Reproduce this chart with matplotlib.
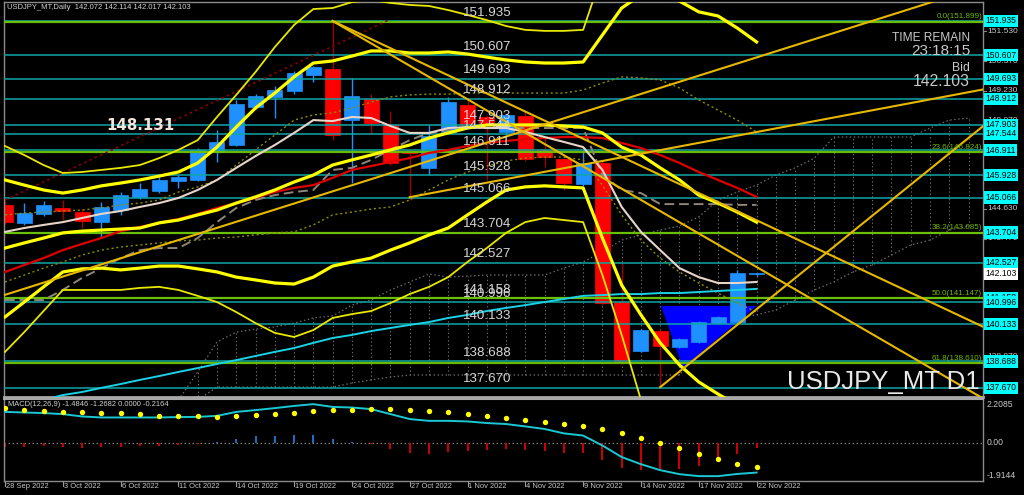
import matplotlib
matplotlib.use("Agg")
import matplotlib.pyplot as plt
from matplotlib.patches import Rectangle, Polygon
import numpy as np

# ---------------- data ----------------
date_labels = ["28 Sep 2022", "3 Oct 2022", "6 Oct 2022", "11 Oct 2022", "14 Oct 2022",
               "19 Oct 2022", "24 Oct 2022", "27 Oct 2022", "1 Nov 2022", "4 Nov 2022",
               "9 Nov 2022", "14 Nov 2022", "17 Nov 2022", "22 Nov 2022"]
date_label_bars = [0, 3, 6, 9, 12, 15, 18, 21, 24, 27, 30, 33, 36, 39]

opens = [144.78, 144.08, 144.43, 144.66, 144.50, 144.11, 144.58, 145.09, 145.32, 145.71,
         145.75, 146.84, 147.11, 148.59, 148.98, 149.21, 149.83, 150.07, 148.08, 148.90,
         147.89, 146.85, 146.22, 147.62, 148.67, 148.20, 147.62, 148.24, 146.92, 146.56,
         145.59, 146.41, 141.00, 139.10, 139.87, 139.25, 139.45, 140.19, 140.22, 142.072]
highs = [144.95, 144.85, 144.95, 144.97, 144.62, 144.89, 145.30, 145.63, 145.85, 145.95,
         146.99, 147.69, 148.86, 149.09, 149.41, 150.00, 150.20, 151.935, 149.72, 149.09,
         148.43, 146.92, 147.89, 148.98, 148.90, 148.28, 148.30, 148.40, 147.42, 146.60,
         146.92, 146.50, 142.52, 139.95, 139.95, 139.60, 140.25, 140.45, 142.25, 142.114]
lows = [144.05, 144.00, 144.35, 144.19, 143.88, 143.53, 144.40, 145.00, 145.24, 145.44,
        145.70, 146.45, 147.07, 148.50, 148.16, 149.09, 149.56, 147.30, 145.63, 147.54,
        146.33, 144.97, 145.94, 147.55, 147.80, 145.75, 147.50, 146.50, 146.25, 145.36,
        145.50, 140.90, 138.60, 139.05, 137.69, 139.20, 139.40, 140.15, 140.18, 142.017]
closes = [144.11, 144.46, 144.78, 144.54, 144.15, 144.70, 145.16, 145.40, 145.75, 145.86,
          146.92, 147.23, 148.70, 149.02, 149.25, 149.91, 150.15, 147.50, 149.02, 147.97,
          146.41, 146.80, 147.46, 148.78, 147.89, 147.97, 148.28, 146.56, 146.64, 145.63,
          146.41, 140.96, 138.67, 139.91, 139.29, 139.56, 140.22, 140.42, 142.13, 142.103]

# Bollinger-type bands (thick = 2 sigma, thin = outer)
bb_mid = [143.10, 143.30, 143.49, 143.69, 143.76, 143.80, 143.84, 143.88, 144.08, 144.19,
          144.39, 144.58, 144.85, 145.09, 145.36, 145.67, 145.94, 146.33, 146.53, 146.72,
          146.92, 147.11, 147.38, 147.58, 147.77, 147.89, 147.89, 147.89, 147.89, 147.85,
          147.81, 147.58, 147.03, 146.72, 146.22, 145.75, 145.16, 144.85, 144.50, 144.11]
bb_up2 = [145.75, 145.55, 145.36, 145.24, 145.36, 145.52, 145.63, 145.75, 145.90, 146.06,
          146.41, 147.03, 147.81, 148.55, 149.13, 149.76, 150.30, 150.38, 150.57, 150.77,
          150.77, 150.69, 150.69, 150.73, 150.65, 150.53, 150.42, 150.34, 150.30, 150.30,
          150.34, 151.39, 152.44, 152.95, 152.95, 152.71, 152.29, 152.13, 151.66, 151.12]
bb_lo2 = [140.42, 141.00, 141.59, 142.17, 142.29, 142.32, 142.25, 142.32, 142.40, 142.40,
          142.29, 142.17, 141.97, 141.86, 141.74, 141.70, 141.97, 142.40, 142.56, 142.71,
          143.02, 143.30, 143.61, 143.88, 144.39, 144.89, 145.36, 145.48, 145.52, 145.48,
          145.44, 143.49, 141.66, 140.50, 139.41, 138.55, 137.89, 137.42, 136.99, 136.72]
bb_up3 = [147.07, 146.72, 146.33, 146.02, 146.06, 146.14, 146.22, 146.33, 146.60, 146.92,
          147.30, 148.20, 149.06, 149.95, 150.92, 151.78, 152.40, 152.44, 152.67, 152.75,
          152.64, 152.56, 152.52, 152.36, 152.17, 151.97, 151.74, 151.59, 151.55, 151.55,
          151.59, 153.80, 154.50, 154.50, 154.50, 154.50, 154.50, 154.50, 154.50, 154.50]
bb_lo3 = [139.06, 139.83, 140.65, 141.47, 141.47, 141.47, 141.47, 141.55, 141.59, 141.47,
          141.24, 141.00, 140.61, 140.18, 139.80, 139.64, 139.91, 140.38, 140.53, 140.65,
          140.96, 141.31, 141.59, 141.97, 142.56, 143.10, 143.69, 144.11, 144.27, 144.19,
          144.11, 142.05, 139.72, 137.19, 136.00, 135.60, 135.30, 135.00, 134.80, 134.60]

ma_red = [142.17, 142.44, 142.71, 143.02, 143.26, 143.49, 143.76, 143.92, 144.08, 144.23,
          144.43, 144.66, 144.85, 145.05, 145.28, 145.44, 145.55, 145.83, 146.14, 146.29,
          146.45, 146.60, 146.80, 146.92, 147.07, 147.19, 147.27, 147.34, 147.38, 147.42,
          147.42, 147.38, 147.19, 146.99, 146.72, 146.41, 146.06, 145.75, 145.44, 145.09]
ma_beige = [143.73, 143.88, 144.00, 144.11, 144.27, 144.43, 144.54, 144.70, 144.85, 145.05,
            145.36, 145.75, 146.22, 146.68, 147.11, 147.58, 148.08, 148.04, 148.20, 148.16,
            147.85, 147.58, 147.58, 147.77, 147.81, 147.77, 147.77, 147.62, 147.42, 147.23,
            147.03, 146.14, 144.70, 143.73, 143.02, 142.32, 141.97, 141.74, 141.74, 141.78]
ma_cyan = [136.80, 137.00, 137.19, 137.38, 137.50, 137.66, 137.81, 137.97, 138.12, 138.28,
           138.43, 138.59, 138.74, 138.90, 139.06, 139.21, 139.41, 139.60, 139.72, 139.87,
           139.99, 140.11, 140.22, 140.38, 140.50, 140.65, 140.77, 140.88, 141.00, 141.12,
           141.24, 141.27, 141.31, 141.31, 141.35, 141.35, 141.39, 141.43, 141.47, 141.51]
env_up = [144.39, 144.46, 144.50, 144.54, 144.58, 144.66, 144.78, 144.85, 144.97, 145.28,
          145.48, 145.75, 146.33, 146.92, 147.50, 148.08, 148.28, 148.36, 148.55, 148.78,
          148.98, 149.06, 149.09, 149.09, 149.13, 149.13, 149.13, 149.13, 149.13, 149.13,
          149.25, 149.52, 149.76, 149.72, 149.64, 149.33, 148.86, 148.47, 148.08, 147.62]
env_lo = [141.78, 142.05, 142.32, 142.56, 142.83, 143.02, 143.14, 143.22, 143.30, 143.38,
          143.41, 143.49, 143.53, 143.61, 143.69, 143.73, 144.00, 144.39, 144.50, 144.62,
          144.70, 144.97, 145.36, 145.75, 146.06, 146.29, 146.49, 146.60, 146.64, 146.64,
          146.53, 145.55, 144.39, 143.41, 142.71, 142.17, 141.74, 141.35, 140.96, 140.61]
kijun = [141.08, 141.08, 141.08, 141.47, 141.94, 142.32, 142.71, 143.02, 143.10, 143.10,
         143.49, 144.11, 144.66, 144.97, 145.16, 145.28, 145.36, 146.14, 146.22, 146.53,
         146.92, 147.30, 147.58, 147.69, 147.77, 147.77, 147.77, 147.77, 147.77, 147.77,
         147.77, 145.94, 145.36, 145.24, 144.81, 144.81, 144.81, 144.81, 144.78, 144.78]

# Ichimoku cloud spans for bars 9 .. 50
cloud_bars = list(range(9, 51))
span_a = [137.19, 138.28, 139.45, 139.83, 139.95, 140.03, 140.18, 140.38, 140.46, 140.88,
          141.08, 141.47, 141.78, 142.09, 141.97, 142.01, 142.05, 142.05, 142.05, 142.05,
          142.32, 142.56, 142.95, 143.41, 143.61, 143.80, 143.96, 144.31, 144.97, 145.28,
          145.55, 145.94, 146.22, 146.60, 147.42, 147.42, 147.42, 147.42, 147.42, 147.77,
          148.08, 148.16]
span_b = [137.19, 137.19, 137.69, 137.69, 137.69, 137.69, 137.69, 137.69, 137.69, 137.85,
          137.97, 138.08, 138.16, 138.16, 138.16, 138.16, 138.16, 138.16, 138.16, 138.16,
          138.16, 138.16, 138.16, 138.16, 138.16, 138.16, 138.16, 139.13, 139.91, 140.42,
          140.50, 140.69, 141.08, 141.47, 141.78, 142.17, 142.44, 142.83, 143.22, 143.41,
          143.80, 143.96]

# horizontal levels and Fibonacci retracement
level_values = [151.935, 150.607, 149.693, 148.912, 147.903, 147.544, 146.911, 145.928,
                145.066, 143.704, 142.527, 141.158, 140.996, 140.133, 138.688, 137.670]
fib_names = ["0.0", "23.6", "38.2", "50.0", "61.8"]
fib_values = [151.899, 146.824, 143.685, 141.147, 138.610]
axis_ticks = [151.530, 150.370, 149.230, 148.070, 146.910, 145.770, 144.630, 143.470,
              142.310, 141.170, 140.030, 138.870, 137.730]

# trend lines: (bar0, price0, bar1, price1)
trend_lines = [(17, 151.935, 50.75, 140.04),
               (17, 151.935, 50.75, 137.25),
               (0, 141.28, 50.75, 153.30),
               (34, 137.69, 50.75, 147.84),
               (21, 145.08, 50.75, 149.27)]
red_dotted_line = (0, 144.97, 19.9, 151.97)
triangle_bars = [34.04, 39.02, 35.18]
triangle_prices = [140.85, 140.85, 138.43]

bid = 142.103
title_text = "USDJPY_MT,Daily  142.072 142.114 142.017 142.103"

# MACD
macd_main = [1.56, 1.53, 1.50, 1.45, 1.33, 1.28, 1.28, 1.28, 1.28, 1.30, 1.31, 1.36, 1.56, 1.65,
             1.75, 1.86, 1.95, 1.81, 1.78, 1.70, 1.45, 1.20, 1.11, 1.11, 1.08, 1.00, 0.95, 0.83,
             0.70, 0.48, 0.37, -0.13, -0.71, -1.07, -1.37, -1.57, -1.67, -1.67, -1.56, -1.49]
macd_signal = [1.75, 1.66, 1.63, 1.58, 1.53, 1.50, 1.48, 1.45, 1.36, 1.35, 1.35, 1.31, 1.35, 1.38,
               1.45, 1.51, 1.60, 1.65, 1.68, 1.71, 1.71, 1.68, 1.61, 1.53, 1.45, 1.35, 1.25, 1.15,
               1.03, 0.93, 0.83, 0.68, 0.50, 0.27, 0.00, -0.26, -0.58, -0.81, -1.04, -1.22]
macd_hist = [-0.20, -0.20, -0.15, -0.20, -0.25, -0.23, -0.20, -0.17, -0.15, -0.08, -0.03, 0.03,
             0.21, 0.33, 0.35, 0.38, 0.38, 0.18, 0.04, -0.04, -0.33, -0.53, -0.58, -0.45, -0.41,
             -0.36, -0.31, -0.36, -0.41, -0.50, -0.50, -0.86, -1.24, -1.36, -1.41, -1.31, -1.14,
             -0.86, -0.56, -0.25]
macd_title = "MACD(12,26,9) -1.4846 -1.2682 0.0000 -0.2164"
macd_max, macd_min = 2.2085, -1.9144

# ---------------- layout ----------------
W, H = 1024, 495
fig = plt.figure(figsize=(W / 100, H / 100), dpi=100, facecolor="black")
XL = (-0.052, 50.75)
ax = fig.add_axes([4 / W, 1 - 397 / H, 979 / W, 395 / H], facecolor="black")
axm = fig.add_axes([4 / W, 1 - 481 / H, 979 / W, 82 / H], facecolor="black")
ax.set_xlim(*XL)
ax.set_ylim(137.305, 152.674)
axm.set_xlim(*XL)
axm.set_ylim(macd_min, macd_max)
for a in (ax, axm):
    for s in a.spines.values():
        s.set_color("#8a8a8a")
        s.set_linewidth(1.0)
    a.set_xticks([])
    a.set_yticks([])
ax.spines["bottom"].set_linewidth(2.0)
ax.spines["bottom"].set_color("#a8a8a8")
axm.spines["top"].set_linewidth(1.5)
axm.spines["top"].set_color("#a8a8a8")

SANS = ["Liberation Sans", "DejaVu Sans"]

n = len(opens)
bars = np.arange(n)

# cloud
ax.vlines(cloud_bars[1:], np.minimum(span_a, span_b)[1:], np.maximum(span_a, span_b)[1:],
          colors="#6a6a6a", linestyles=(0, (1.2, 2.2)), linewidth=0.8, zorder=1)
ax.plot(cloud_bars, span_a, color="#6a6a6a", ls=(0, (1.2, 2.0)), lw=0.9, zorder=1)
ax.plot(cloud_bars, span_b, color="#6a6a6a", ls=(0, (1.2, 2.0)), lw=0.9, zorder=1)

# triangle
ax.add_patch(Polygon(list(zip(triangle_bars, triangle_prices)), closed=True,
                     facecolor="#0000ff", edgecolor="none", zorder=1.5))

# candles
bw = 0.78
for i in range(n):
    o, h, l, c = opens[i], highs[i], lows[i], closes[i]
    up = c >= o
    body_col = "#1e90ff" if up else "#ff0000"
    wick_col = "#1e90ff" if up else "#a00000"
    ax.plot([i, i], [l, h], color=wick_col, lw=1.0, zorder=2, solid_capstyle="butt")
    lo_b = min(o, c)
    hb = max(abs(c - o), 0.05)
    ax.add_patch(Rectangle((i - bw / 2, lo_b), bw, hb, facecolor=body_col,
                           edgecolor=body_col, lw=0.5, zorder=2.2))

# horizontal levels
for v in level_values:
    ax.axhline(v, color="#0fa7a7", lw=1.1, zorder=3)
for v in fib_values:
    ax.axhline(v, color="#6fc400", lw=1.6, zorder=3, alpha=0.95)

# indicator lines
ax.plot(bars, env_up, color="#8c8c00", ls=(0, (1.5, 2)), lw=1.0, zorder=3.2)
ax.plot(bars, env_lo, color="#8c8c00", ls=(0, (1.5, 2)), lw=1.0, zorder=3.2)
ax.plot(bars, kijun, color="#8f857a", ls=(0, (5, 2.5)), lw=1.4, zorder=3.2)
ax.plot(bars, ma_cyan, color="#19d2e6", lw=1.4, zorder=3.3)
ax.plot(bars, ma_red, color="#e00000", lw=1.6, zorder=3.3)
ax.plot(bars, ma_beige, color="#e6d5c8", lw=1.5, zorder=3.4)
ax.plot(bars, bb_up3, color="#e8e800", lw=1.3, zorder=3.5)
ax.plot(bars, bb_lo3, color="#e8e800", lw=1.3, zorder=3.5)
ax.plot(bars, bb_up2, color="#ffff00", lw=2.3, zorder=3.5)
ax.plot(bars, bb_lo2, color="#ffff00", lw=2.3, zorder=3.5)
ax.plot(bars, bb_mid, color="#ffff00", lw=2.3, zorder=3.5)

for (b0, p0, b1, p1) in trend_lines:
    ax.plot([b0, b1], [p0, p1], color="#e6b800", lw=1.5, zorder=3.6)
rb0, rp0, rb1, rp1 = red_dotted_line
ax.plot([rb0, rb1], [rp0, rp1], color="#8b0000", ls=(0, (1.5, 2)), lw=1.2, zorder=3.1)

# level labels
for v in level_values:
    ax.text(23.77, v + 0.09, f"{v:.3f}", color="#d6d6d6", fontsize=9.6, family=SANS,
            ha="left", va="bottom", zorder=6)
ax.text(5.24, 147.577, "148.131", color="#f2e6dc", fontsize=10.8, fontweight="bold",
        family=["DejaVu Sans"], ha="left", va="bottom", zorder=6)
for nm, v in zip(fib_names, fib_values):
    ax.text(50.7, v + 0.06, f"{nm}({v:.3f})", color="#72b800", fontsize=5.8, family=SANS,
            ha="right", va="bottom", zorder=6)

# right axis
ytr = ax.get_yaxis_transform()
for v in axis_ticks:
    ax.text(1.004, v, f"{v:.3f}", transform=ytr, color="#c8c8c8", fontsize=6.0,
            family=SANS, ha="left", va="center", clip_on=False, zorder=5)
    ax.plot([1.0, 1.003], [v, v], transform=ytr, color="#8a8a8a", lw=0.8, clip_on=False)
box_vals = sorted(level_values, reverse=True)
for v in box_vals:
    ax.text(1.0025, v, f"{v:.3f}", transform=ytr, color="black", fontsize=6.2,
            family=SANS, ha="left", va="center", clip_on=False, zorder=7,
            bbox=dict(boxstyle="square,pad=0.18", fc="#00ffff", ec="none"))
ax.text(1.0025, bid, f"{bid:.3f}", transform=ytr, color="black", fontsize=6.2,
        family=SANS, ha="left", va="center", clip_on=False, zorder=8,
        bbox=dict(boxstyle="square,pad=0.18", fc="white", ec="none"))

# info texts
fig.text(7 / W, 1 - 7.5 / H, title_text, color="#d2d2d2", fontsize=5.5, family=SANS,
         ha="left", va="center")
fig.text(970 / W, 1 - 38 / H, "TIME REMAIN", color="#c8c8c8", fontsize=8.6, family=SANS,
         ha="right", va="center")
fig.text(970 / W, 1 - 51 / H, "23:18:15", color="#c8c8c8", fontsize=11.0, family=SANS,
         ha="right", va="center")
fig.text(970 / W, 1 - 68 / H, "Bid", color="#c8c8c8", fontsize=8.8, family=SANS,
         ha="right", va="center")
fig.text(970 / W, 1 - 81 / H, f"{bid:.3f}", color="#c8c8c8", fontsize=11.3, family=SANS,
         ha="right", va="center")
fig.text(980 / W, 1 - 382 / H, "USDJPY_MT D1", color="#e8e8e8", fontsize=18.5, family=SANS,
         ha="right", va="center")

# MACD panel
axm.axhline(0, color="#7a7a7a", ls=(0, (1.2, 2)), lw=0.9)
hist_cols = ["#1e78d8" if v >= 0 else "#e00000" for v in macd_hist]
axm.vlines(bars, 0, macd_hist, colors=hist_cols, lw=1.3, zorder=2)
axm.plot(bars, macd_main, color="#19c8d2", lw=1.4, zorder=3)
axm.scatter(bars, macd_signal, s=15, color="#ffff00", zorder=4, linewidths=0)
axm.text(0.004, 0.93, macd_title, transform=axm.transAxes, color="#d2d2d2", fontsize=5.4,
         family=SANS, ha="left", va="center")
mtr = axm.get_yaxis_transform()
for v, t in [(1.95, "2.2085"), (0.0, "0.00"), (-1.65, "-1.9144")]:
    axm.text(1.004, v, t, transform=mtr, color="#c8c8c8", fontsize=6.2, family=SANS,
             ha="left", va="center", clip_on=False)

# date axis
xtr = axm.get_xaxis_transform()
for b, lab in zip(date_label_bars, date_labels):
    axm.plot([b, b], [0, -0.06], transform=xtr, color="#9a9a9a", lw=0.8, clip_on=False)
    axm.text(b + 0.05, -0.07, lab, transform=xtr, color="#c8c8c8",
             fontsize=5.4, family=SANS, ha="left", va="center", clip_on=False)

fig.savefig("out.png", dpi=100, facecolor="black")
